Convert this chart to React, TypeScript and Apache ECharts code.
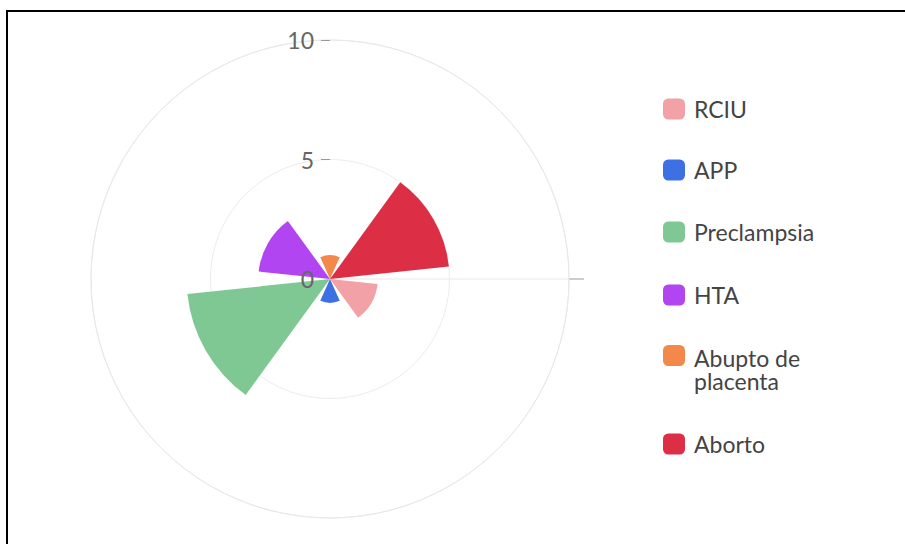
import React, { useEffect, useRef } from "react";
import * as echarts from "echarts";

// Categories around the circle (clockwise from 3 o'clock)
const categories = ["RCIU", "APP", "Preclampsia", "HTA", "Abupto de placenta", "Aborto"];
const legendLabels = [
  "{a|RCIU}",
  "{a|APP}",
  "{a|Preclampsia}",
  "{a|HTA}",
  "{s| }\n{a|Abupto de}\n{a|placenta}",
  "{a|Aborto}",
];
const values = [2, 1, 6, 3, 1, 5];
const colors = ["#f2a2a7", "#3d71e3", "#7fc894", "#b245f2", "#f2894a", "#dc2e44"];
const radiusTicks = [0, 5, 10];
const legendTops = [85.5, 146.5, 208.5, 271.5, 307, 420.5];

const FONT = "Lato, 'Noto Sans', sans-serif";

export default function App() {
  const ref = useRef<HTMLDivElement>(null);

  useEffect(() => {
    if (!ref.current) return;
    const chart = echarts.init(ref.current, undefined, { renderer: "svg" });

    const series = categories.map((name, i) => ({
      type: "bar",
      name,
      coordinateSystem: "polar",
      polarIndex: 0,
      stack: "all",
      barCategoryGap: "20%",
      itemStyle: { color: colors[i] },
      data: categories.map((_, j) => (j === i ? values[i] : null)),
    }));

    const legends = categories.map((name, i) => ({
      data: [{ name, icon: "roundRect" }],
      orient: "vertical",
      left: 655,
      top: legendTops[i],
      padding: 0,
      itemWidth: 22,
      itemHeight: 21,
      selectedMode: false,
      formatter: () => legendLabels[i],
      textStyle: {
        fontFamily: FONT,
        fontSize: 23,
        lineHeight: 23,
        color: "#444",
        rich: {
          a: {
            fontFamily: FONT,
            fontSize: 23,
            lineHeight: 23,
            color: "#444",
            padding: [0, 0, 0, 4],
          },
          s: { fontSize: 10, lineHeight: 27, height: 27 },
        },
      },
    }));

    chart.setOption({
      animation: false,
      backgroundColor: "#fff",
      polar: [
        { center: [322, 267], radius: 239 },
        { center: [322, 267], radius: 239 },
      ],
      angleAxis: [
        {
          polarIndex: 0,
          type: "category",
          data: categories,
          startAngle: 0,
          clockwise: true,
          boundaryGap: true,
          axisLine: { show: true, lineStyle: { color: "#e8e8e8", width: 1 } },
          axisTick: {
            show: true,
            inside: false,
            length: 15,
            interval: (idx: number) => idx === 0,
            lineStyle: { color: "#9a9a9a", width: 1 },
          },
          axisLabel: { show: false },
          splitLine: { show: true, lineStyle: { color: "#e8e8e8", width: 1 } },
        },
        {
          polarIndex: 1,
          type: "value",
          min: 0,
          max: 360,
          startAngle: 90,
          axisLine: { show: false },
          axisTick: { show: false },
          axisLabel: { show: false },
          splitLine: { show: false },
        },
      ],
      radiusAxis: [
        {
          polarIndex: 0,
          type: "value",
          min: 0,
          max: 10,
          interval: 5,
          axisLine: { show: false },
          axisTick: { show: false },
          axisLabel: { show: false },
          splitLine: { show: true, lineStyle: { color: "#ececec", width: 1 } },
        },
        {
          polarIndex: 1,
          type: "value",
          min: 0,
          max: 10,
          interval: 5,
          z: 10,
          axisLine: { show: false },
          axisTick: {
            show: true,
            length: 9,
            customValues: [5, 10],
            lineStyle: { color: "#9a9a9a", width: 1 },
          },
          axisLabel: {
            show: true,
            margin: 16,
            customValues: radiusTicks,
            color: "#666",
            fontFamily: FONT,
            fontSize: 23,
          },
          splitLine: { show: false },
        },
      ],
      legend: legends,
      series,
    });

    return () => chart.dispose();
  }, []);

  return (
    <div
      style={{
        position: "fixed",
        left: 6,
        top: 10,
        width: 905,
        border: "2px solid #000",
        background: "#fff",
      }}
    >
      <div ref={ref} style={{ width: 905, height: 532 }} />
    </div>
  );
}
